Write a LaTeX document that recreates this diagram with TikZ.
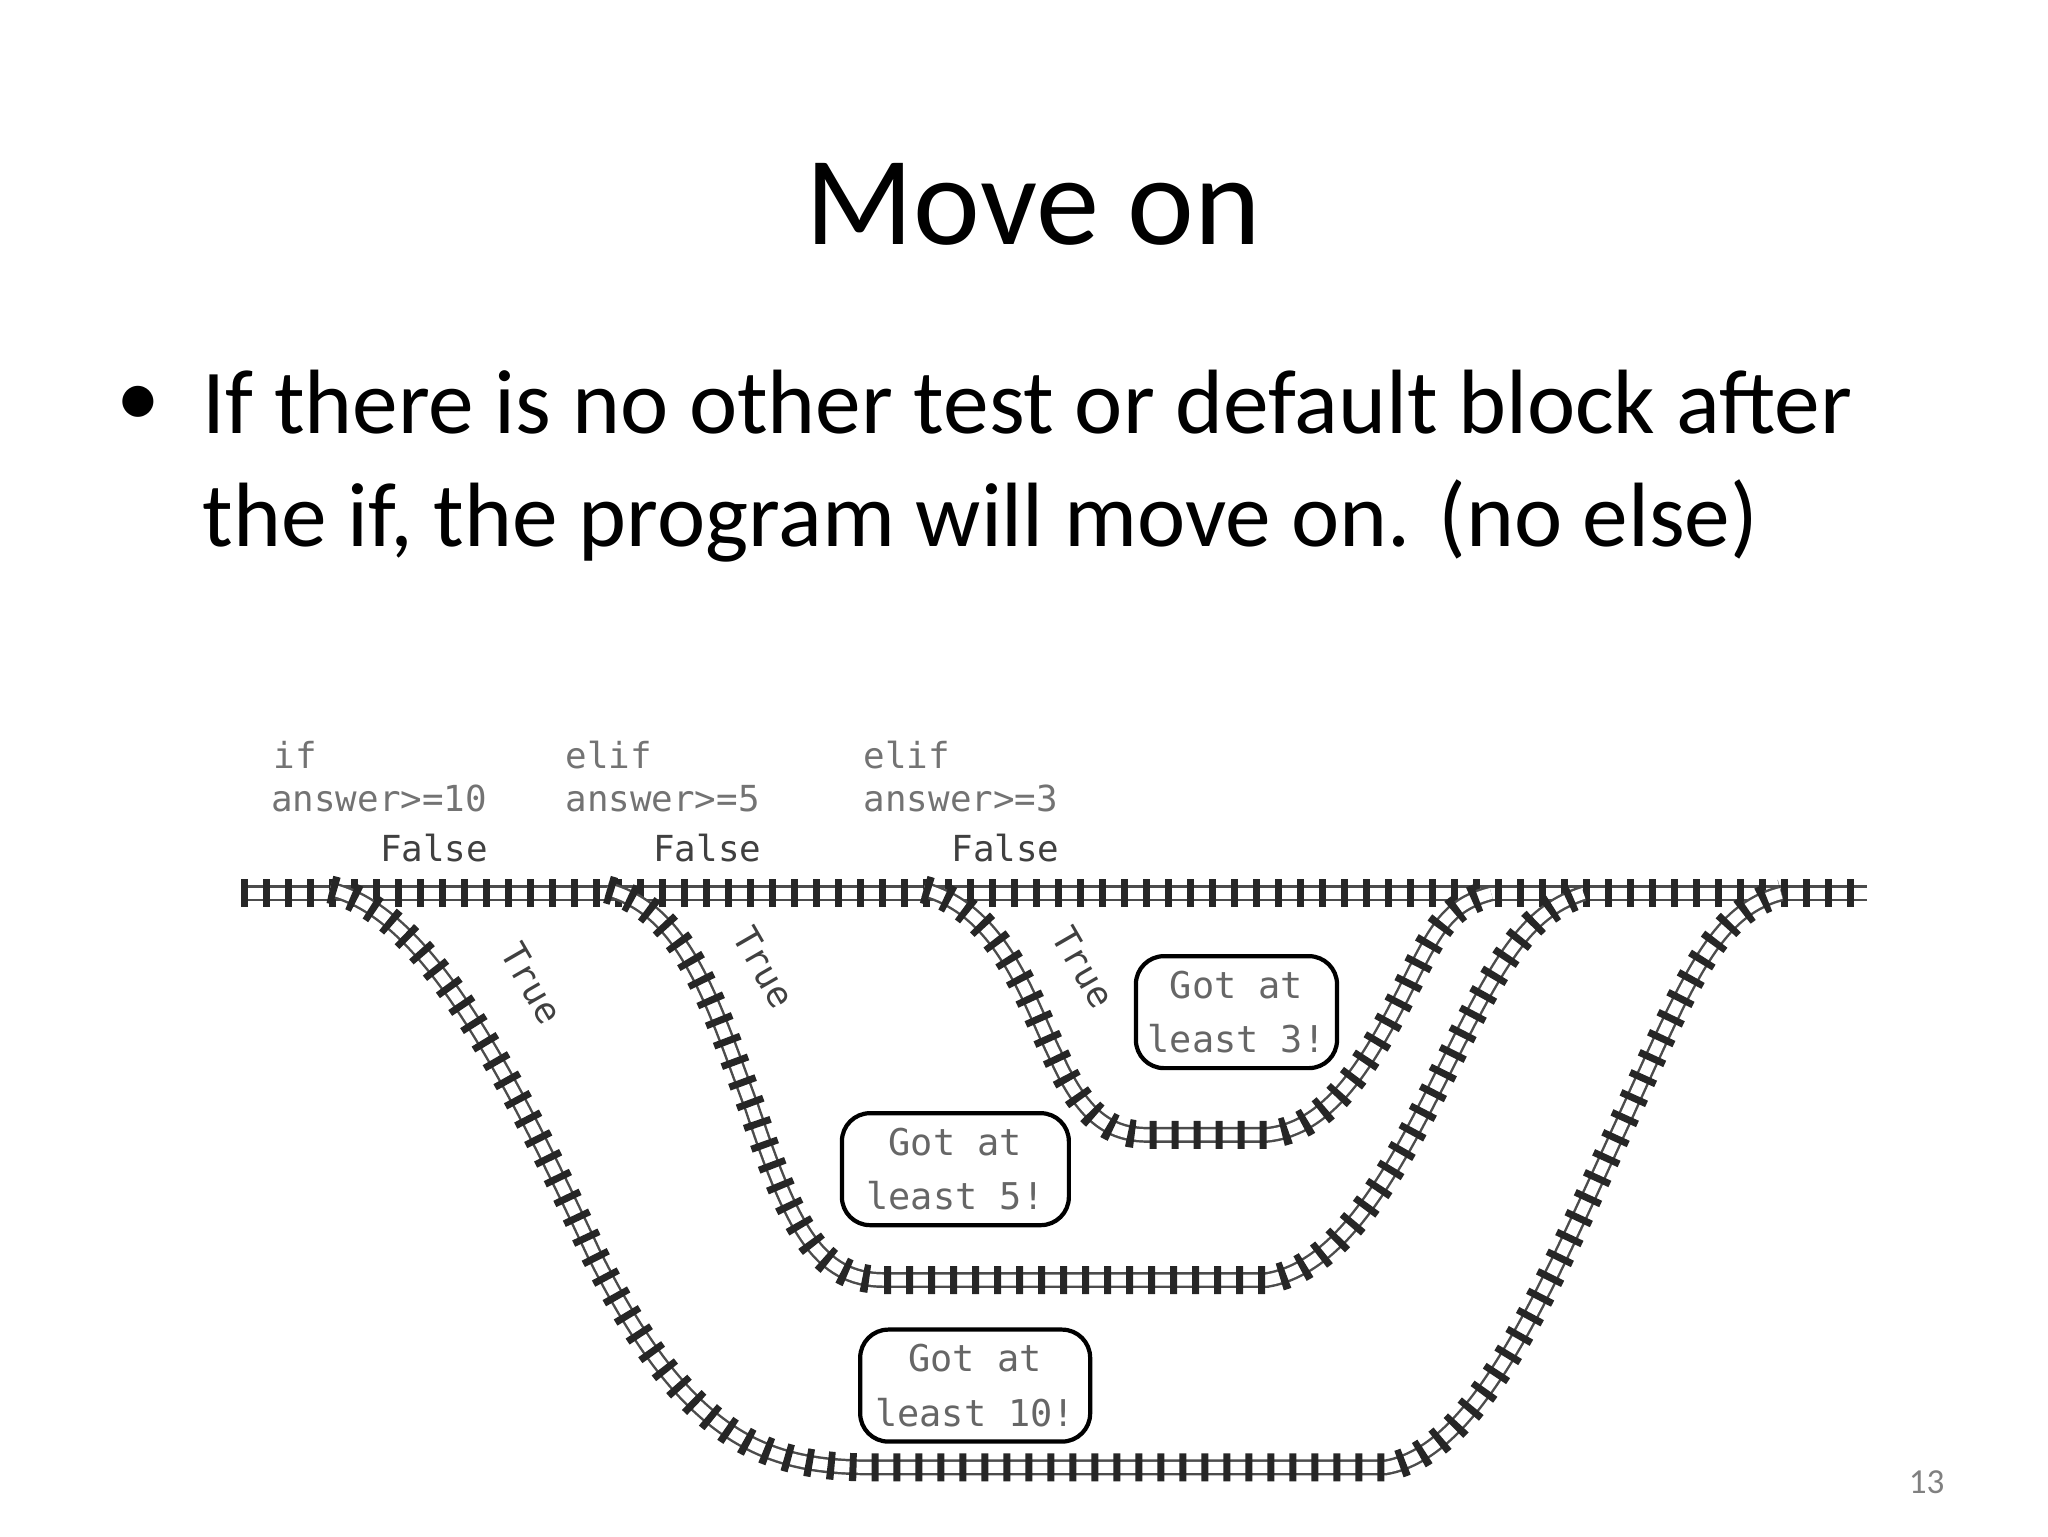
\documentclass[tikz,border=0pt]{standalone}
\usepackage{fontspec}
\setmainfont{Carlito}
\newfontfamily\monof{DejaVu Sans Mono}
\begin{document}
\begin{tikzpicture}[x=0.0132cm,y=-0.0132cm,
  ties/.style={line width=0.28cm, dash pattern=on 0.07cm off 0.15cm, black!85},
  rails/.style={double=white, double distance=0.11cm, line width=0.7pt, black!70},
  lbl/.style={font=\monof\fontsize{10.2}{12}\selectfont, text=black!55, inner sep=0pt},
  gotbox/.style={draw, rounded corners=8pt, line width=1.2pt, align=center, font=\monof\fontsize{10.5}{15.5}\selectfont, text=black!60, minimum height=1.12cm}]
\useasboundingbox (0,0) rectangle (1552,1164);
\node (title) at (783,155) {\fontsize{36}{42}\selectfont Move on};
\node (bul) at (105,308) {\fontsize{25}{30}\selectfont •};
\node[anchor=north west, align=left, inner sep=0pt, font=\fontsize{26}{32}\selectfont] (body) at (153,280) {If there is no other test or default block after\\ the if, the program will move on. (no else)};
% tracks
\foreach \p in {
 {(183,677) -- (1415,677)},
 {(250,674) .. controls (320,690) and (380,800) .. (450,950) .. controls (520,1090) and (580,1112) .. (660,1112) -- (1050,1112) .. controls (1120,1100) and (1170,980) .. (1230,850) .. controls (1280,740) and (1300,690) .. (1350,677)},
 {(460,674) .. controls (520,690) and (540,760) .. (570,840) .. controls (600,930) and (620,970) .. (670,970) -- (960,970) .. controls (1020,960) and (1060,880) .. (1100,800) .. controls (1140,720) and (1160,690) .. (1200,677)},
 {(700,674) .. controls (760,690) and (780,760) .. (800,800) .. controls (820,845) and (840,860) .. (870,860) -- (960,860) .. controls (1010,855) and (1040,800) .. (1070,740) .. controls (1090,700) and (1100,685) .. (1130,677)}}
{ \draw[rails] \p; \draw[ties] \p; }
% labels
\node[lbl, anchor=west] (l1a) at (207,572) {if};
\node[lbl, anchor=west] (l1b) at (205,605) {answer>=10};
\node[lbl, anchor=west] (l2a) at (428,572) {elif};
\node[lbl, anchor=west] (l2b) at (428,605) {answer>=5};
\node[lbl, anchor=west] (l3a) at (654,572) {elif};
\node[lbl, anchor=west] (l3b) at (654,605) {answer>=3};
\node[lbl, text=black!75] (f1) at (329,643) {False};
\node[lbl, text=black!75] (f2) at (536,643) {False};
\node[lbl, text=black!75] (f3) at (762,643) {False};
\node[lbl, text=black!75, rotate=-60] (t1) at (403,745) {True};
\node[lbl, text=black!75, rotate=-60] (t2) at (579,733) {True};
\node[lbl, text=black!75, rotate=-60] (t3) at (821,733) {True};
\node[gotbox, fill=white, minimum width=1.8cm] (g3) at (937,767) {Got at\\least 3!};
\node[gotbox, fill=white, minimum width=2.27cm] (g5) at (724,886) {Got at\\least 5!};
\node[gotbox, fill=white, minimum width=2.3cm] (g10) at (739,1050) {Got at\\least 10!};
\node[text=black!50] (pg) at (1460,1123) {\fontsize{10}{12}\selectfont 13};
\end{tikzpicture}
\end{document}
